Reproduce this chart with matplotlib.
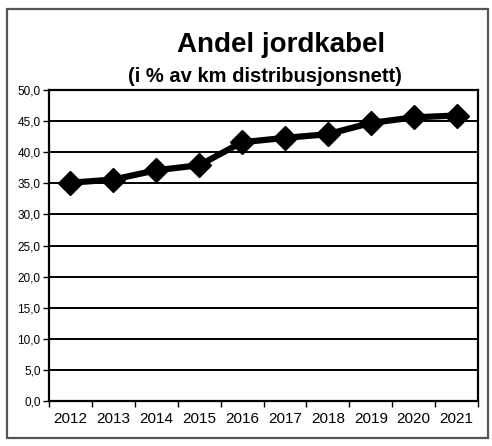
import matplotlib.pyplot as plt
from matplotlib.patches import Rectangle

plt.rcParams['font.family'] = ['Liberation Sans', 'DejaVu Sans']

years = ['2012', '2013', '2014', '2015', '2016',
         '2017', '2018', '2019', '2020', '2021']
share = [35.1, 35.6, 37.1, 37.9, 41.6, 42.3, 42.9, 44.7, 45.6, 45.9]
y_ticks = [0, 5, 10, 15, 20, 25, 30, 35, 40, 45, 50]

fig = plt.figure(figsize=(4.92, 4.46), dpi=100)

# outer frame round the whole chart
fig.patches.append(Rectangle((7 / 492, 8 / 446), 481 / 492, 429 / 446,
                             transform=fig.transFigure, fill=False,
                             edgecolor='#555555', linewidth=1.6))

ax = fig.add_axes([49 / 492, 45 / 446, 429 / 492, 311 / 446])

x = list(range(len(years)))
ax.plot(x, share, color='black', linewidth=4.5, marker='D',
        markersize=12, zorder=3)

ax.set_ylim(0, 50)
ax.set_xlim(-0.5, len(years) - 0.5)
ax.set_yticks(y_ticks)
ax.set_yticklabels([f'{v:.1f}'.replace('.', ',') for v in y_ticks],
                   fontsize=8.5)
ax.yaxis.grid(True, color='black', linewidth=1.4)

# category ticks between the years, labels centred on each year
ax.set_xticks([i - 0.5 for i in range(len(years) + 1)])
ax.set_xticklabels([])
ax.set_xticks(x, minor=True)
ax.set_xticklabels(years, minor=True, fontsize=11)
ax.tick_params(axis='x', which='minor', length=0, pad=8)
ax.tick_params(axis='x', which='major', length=4, width=1, direction='out')
ax.tick_params(axis='y', length=4, width=1, direction='out', pad=2)

for s in ax.spines.values():
    s.set_linewidth(1.6)
    s.set_color('black')

fig.text(281 / 492, 1 - 45 / 446, 'Andel jordkabel', ha='center',
         va='center', fontsize=20, fontweight='bold')
fig.text(128 / 492, 1 - 76 / 446, '(i % av km distribusjonsnett)',
         ha='left', va='center', fontsize=14.5, fontweight='bold')

fig.savefig('out.png', dpi=100)
